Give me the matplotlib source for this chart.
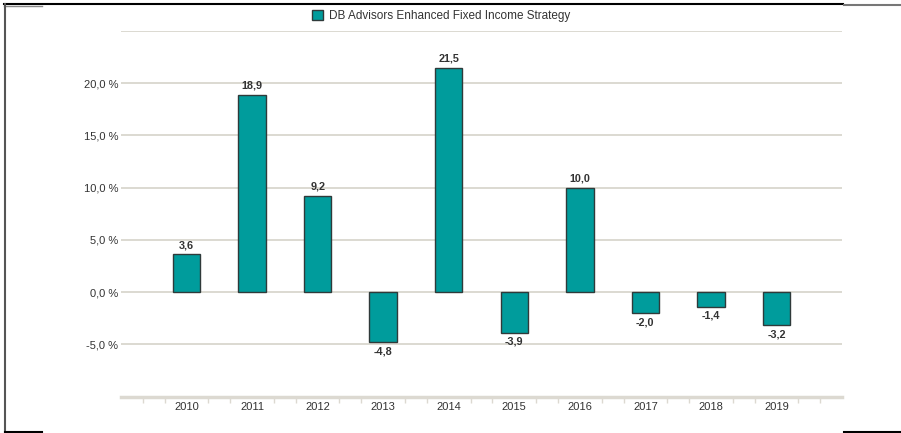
#!/usr/bin/env python3
"""Annual returns bar chart: DB Advisors Enhanced Fixed Income Strategy."""

import matplotlib
matplotlib.use("Agg")
import matplotlib.pyplot as plt
from matplotlib.lines import Line2D
import numpy as np

YEARS = [2010, 2011, 2012, 2013, 2014, 2015, 2016, 2017, 2018, 2019]
RETURNS = [3.6, 18.9, 9.2, -4.8, 21.5, -3.9, 10.0, -2.0, -1.4, -3.2]
SERIES_NAME = "DB Advisors Enhanced Fixed Income Strategy"
Y_TICKS = [-5, 0, 5, 10, 15, 20]

BAR_COLOUR = "#009c9c"
EDGE_COLOUR = "#2f3a3a"
GRID_COLOUR = "#dcd9d1"
TEXT_COLOUR = "#333333"

plt.rcParams["font.family"] = ["Liberation Sans", "DejaVu Sans"]

fig = plt.figure(figsize=(9.01, 4.33), dpi=100)
ax = fig.add_axes([121 / 901, 1 - 396.5 / 433, (842 - 121) / 901, (396.5 - 31) / 433])

x = np.arange(len(YEARS))
bars = ax.bar(x, RETURNS, width=0.42, color=BAR_COLOUR, edgecolor=EDGE_COLOUR,
              linewidth=1.0, zorder=3, label=SERIES_NAME)

# value labels: above positive bars, below negative ones
for xi, v in zip(x, RETURNS):
    txt = f"{v:.1f}".replace(".", ",")
    if v >= 0:
        ax.annotate(txt, (xi, v), xytext=(0, 3), textcoords="offset points",
                    ha="center", va="bottom", fontsize=7.8, fontweight="bold", color=TEXT_COLOUR)
    else:
        ax.annotate(txt, (xi, v), xytext=(0, -3), textcoords="offset points",
                    ha="center", va="top", fontsize=7.8, fontweight="bold", color=TEXT_COLOUR)

ax.set_xlim(-1, len(YEARS))
ax.set_ylim(-10, 25)

# horizontal grid (incl. top line at 25)
for g in Y_TICKS + [25]:
    ax.axhline(g, color=GRID_COLOUR, linewidth=1.4, zorder=1)

ax.set_yticks(Y_TICKS)
ax.set_yticklabels([f"{t:.1f} %".replace(".", ",") for t in Y_TICKS], fontsize=8, color=TEXT_COLOUR)
ax.tick_params(axis="y", length=0, pad=2)

ax.set_xticks(x)
ax.set_xticklabels([str(y) for y in YEARS], fontsize=8, color=TEXT_COLOUR)
ax.tick_params(axis="x", which="major", length=0, pad=4)
minor = [k / 3 for k in range(-3, 3 * len(YEARS) + 1) if k % 3 != 0]
ax.set_xticks(minor, minor=True)
ax.tick_params(axis="x", which="minor", length=4, width=1.0, color=GRID_COLOUR, direction="out")

for side in ("top", "left", "right"):
    ax.spines[side].set_visible(False)
ax.spines["bottom"].set_color(GRID_COLOUR)
ax.spines["bottom"].set_linewidth(2.5)

fig.legend(handles=[bars], labels=[SERIES_NAME], loc="center",
           bbox_to_anchor=(441 / 901, 1 - 16 / 433), frameon=False, fontsize=8.5,
           handlelength=0.9, handleheight=0.9, handletextpad=0.5, labelcolor=TEXT_COLOUR)

# screenshot frame fragments
def _fline(x0, x1, y0, y1, colour="black", lw=1.5):
    fig.add_artist(Line2D([x0 / 901, x1 / 901], [1 - y0 / 433, 1 - y1 / 433],
                          color=colour, linewidth=lw, transform=fig.transFigure))

_fline(4, 843, 4, 4)
_fline(844, 901, 5, 5, colour="#777777")
_fline(4, 42, 5.5, 5.5, colour="#888888", lw=1.0)
_fline(5, 5, 4, 432, colour="#555555")
_fline(5, 42, 431.5, 431.5)
_fline(844, 901, 431.5, 431.5)

fig.savefig("out.png", dpi=100)
